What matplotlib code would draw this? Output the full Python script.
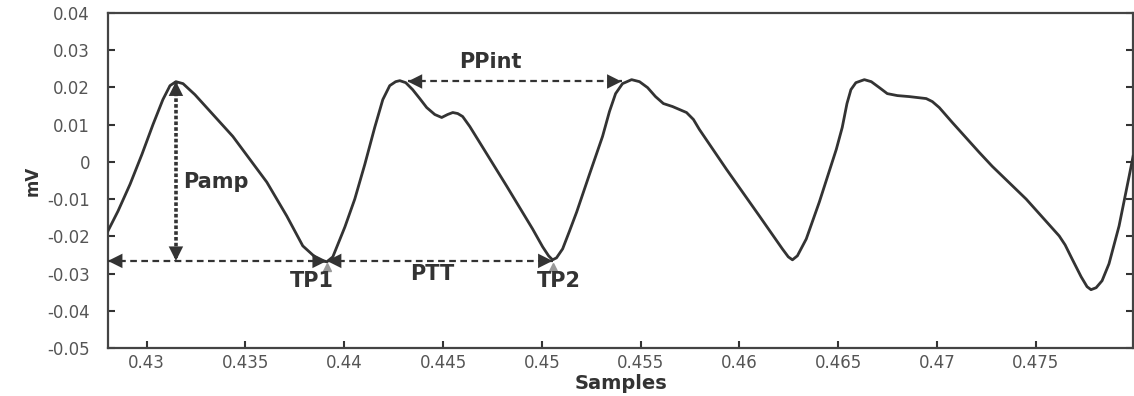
import matplotlib
matplotlib.use("Agg")
import matplotlib.pyplot as plt

plt.rcParams['font.family'] = ['DejaVu Sans']
plt.rcParams['axes.unicode_minus'] = False

# PPG signal (time in samples axis, amplitude in mV)
t = [0.42804, 0.42855, 0.42916, 0.42976, 0.43032, 0.43082, 0.43118, 0.43148, 0.43184, 0.43244,
     0.43436, 0.43608, 0.43709, 0.43790, 0.43851, 0.43886, 0.43912, 0.43942, 0.44003, 0.44053,
     0.44104, 0.44154, 0.44195, 0.44230, 0.44260, 0.44281, 0.44311, 0.44346, 0.44382, 0.44417,
     0.44458, 0.44493, 0.44523, 0.44549, 0.44574, 0.44599, 0.44635, 0.44685, 0.44822, 0.44953,
     0.45004, 0.45034, 0.45054, 0.45074, 0.45105, 0.45140, 0.45176, 0.45241, 0.45307, 0.45342,
     0.45373, 0.45408, 0.45454, 0.45494, 0.45535, 0.45575, 0.45615, 0.45661, 0.45732, 0.45767,
     0.45797, 0.45934, 0.46101, 0.46217, 0.46247, 0.46268, 0.46293, 0.46338, 0.46404, 0.46490,
     0.46520, 0.46544, 0.46564, 0.46589, 0.46632, 0.46667, 0.46708, 0.46748, 0.46799, 0.46859,
     0.46945, 0.46976, 0.47011, 0.47077, 0.47213, 0.47279, 0.47451, 0.47618, 0.47648, 0.47683,
     0.47729, 0.47759, 0.47779, 0.47805, 0.47835, 0.47870, 0.47921, 0.47972, 0.47992]
mv = [-0.01856, -0.01321, -0.00599, 0.00203, 0.01005, 0.01674, 0.02048, 0.02155, 0.02102, 0.01807,
      0.00684, -0.00545, -0.01455, -0.02257, -0.02551, -0.02658, -0.02684, -0.02551, -0.01749, -0.01000,
      -0.00064, 0.00925, 0.01674, 0.02048, 0.02155, 0.02182, 0.02128, 0.01941, 0.01701, 0.01460,
      0.01273, 0.01193, 0.01273, 0.01326, 0.01299, 0.01219, 0.00952, 0.00524, -0.00652, -0.01802,
      -0.02283, -0.02524, -0.02631, -0.02578, -0.02337, -0.01856, -0.01348, -0.00332, 0.00684, 0.01353,
      0.01834, 0.02102, 0.02209, 0.02155, 0.01995, 0.01754, 0.01567, 0.01487, 0.01326, 0.01139,
      0.00872, -0.00198, -0.01455, -0.02337, -0.02551, -0.02631, -0.02524, -0.02070, -0.01080, 0.00337,
      0.00925, 0.01567, 0.01941, 0.02128, 0.02209, 0.02155, 0.01995, 0.01834, 0.01781, 0.01754,
      0.01701, 0.01620, 0.01460, 0.01059, 0.00257, -0.00118, -0.01000, -0.01989, -0.02230, -0.02604,
      -0.03086, -0.03353, -0.03433, -0.03380, -0.03193, -0.02738, -0.01722, -0.00385, 0.00150]

# feature points
peak1 = (0.43148, 0.0216)
tp1 = (0.43912, -0.0266)
tp2 = (0.45054, -0.0266)
ppint_start = (0.44321, 0.0216)
ppint_end = (0.45403, 0.0216)

xticks = [0.43, 0.435, 0.44, 0.445, 0.45, 0.455, 0.46, 0.465, 0.47, 0.475]
xticklabels = ['0.43', '0.435', '0.44', '0.445', '0.45', '0.455', '0.46', '0.465', '0.47', '0.475']
yticks = [0.04, 0.03, 0.02, 0.01, 0, -0.01, -0.02, -0.03, -0.04, -0.05]
yticklabels = ['0.04', '0.03', '0.02', '0.01', '0', '-0.01', '-0.02', '-0.03', '-0.04', '-0.05']

dark = '#333333'
fig = plt.figure(figsize=(11.34, 3.96), dpi=100)
ax = fig.add_axes([0.0952, 0.1212, 0.9040, 0.8460])

ax.plot(t, mv, color=dark, lw=2.0, solid_joinstyle='round', zorder=3)

xmin, xmax = 0.42804, 0.47992
ax.set_xlim(xmin, xmax)
ax.set_ylim(-0.05, 0.04)


def arrow(p0, p1, ls, lw):
    ax.plot([p0[0], p1[0]], [p0[1], p1[1]], color=dark, ls=ls, lw=lw, zorder=4)
    ax.annotate('', xy=p1, xytext=p0,
                arrowprops=dict(arrowstyle='<|-|>', color=dark, lw=0.01,
                                mutation_scale=26, shrinkA=0, shrinkB=0), zorder=5)


arrow(peak1, (peak1[0], tp1[1]), (0, (1, 0.6)), 2.6)
arrow((xmin, tp1[1]), tp1, (0, (3, 2)), 1.6)
arrow(tp1, tp2, (0, (3, 2)), 1.6)
arrow(ppint_start, ppint_end, (0, (3, 2)), 1.6)

ax.plot([tp1[0], tp2[0]], [-0.0283, -0.0283], ls='none', marker='^',
        color='#999999', ms=6, zorder=2)

lab = dict(fontsize=15, fontweight='bold', color=dark, ha='center', va='center')
ax.text(0.43351, -0.0055, 'Pamp', **lab)
ax.text(0.44741, 0.0269, 'PPint', **lab)
ax.text(0.43836, -0.0319, 'TP1', **lab)
ax.text(0.44443, -0.0300, 'PTT', **lab)
ax.text(0.45085, -0.0319, 'TP2', **lab)

ax.set_xticks(xticks)
ax.set_xticklabels(xticklabels)
ax.set_yticks(yticks)
ax.set_yticklabels(yticklabels)
ax.tick_params(axis='both', direction='in', length=5, width=1.5, colors=dark,
               labelcolor='#555555', labelsize=12)
ax.tick_params(axis='y', right=True, pad=13)
ax.tick_params(axis='x', pad=4)
for s in ax.spines.values():
    s.set_linewidth(1.6)
    s.set_color('#444444')

ax.set_xlabel('Samples', fontsize=14, fontweight='bold', color=dark, labelpad=2)
ax.set_ylabel('mV', fontsize=12, fontweight='bold', color=dark, labelpad=4)

fig.savefig('out.png', dpi=100)
